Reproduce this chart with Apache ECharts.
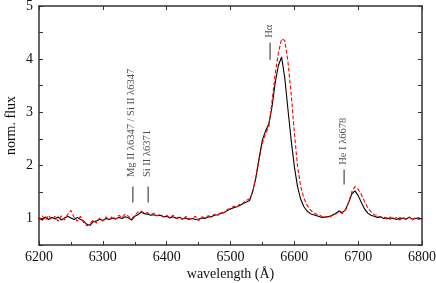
<!DOCTYPE html>
<html><head><meta charset="utf-8">
<script src="https://cdn.jsdelivr.net/npm/echarts@6/dist/echarts.min.js"></script>
<style>html,body{margin:0;padding:0;background:#fff}#c{width:436px;height:283px}</style>
</head><body><div id="c"></div>
<script>
const wavelength = [6200,6205,6210,6215,6220,6225,6230,6235,6240,6245,6250,6255,6260,6265,6270,6275,6280,6285,6290,6295,
6300,6305,6310,6315,6320,6325,6330,6335,6340,6345,6350,6355,6360,6365,6370,6375,6380,6385,6390,6395,
6400,6405,6410,6415,6420,6425,6430,6435,6440,6445,6450,6455,6460,6465,6470,6475,6480,6485,6490,6495,
6500,6505,6510,6515,6520,6525,6530,6535,6540,6545,6550,6555,6560,6565,6570,6575,6580,6585,6590,6595,
6600,6605,6610,6615,6620,6625,6630,6635,6640,6645,6650,6655,6660,6665,6670,6675,6680,6685,6690,6695,
6700,6705,6710,6715,6720,6725,6730,6735,6740,6745,6750,6755,6760,6765,6770,6775,6780,6785,6790,6795,6800];
const fluxBlack = [1.01,0.97,1.03,0.98,1.02,0.99,1.03,0.97,1.01,1.04,1.01,0.98,1.02,0.98,0.95,0.89,0.87,0.94,0.95,0.99,
0.96,1.00,0.98,1.01,0.99,1.02,1.00,1.03,1.01,0.97,1.04,1.07,1.12,1.09,1.08,1.06,1.07,1.05,1.06,1.03,
1.04,1.01,1.03,1.00,1.02,0.99,1.01,0.98,1.00,0.98,0.99,1.01,1.00,1.03,1.03,1.06,1.07,1.10,1.11,1.15,
1.18,1.20,1.22,1.25,1.28,1.31,1.34,1.52,1.78,2.15,2.48,2.65,2.78,3.10,3.55,3.88,4.04,3.65,3.05,2.48,
1.98,1.60,1.36,1.22,1.14,1.09,1.07,1.05,1.03,1.02,1.03,1.04,1.06,1.10,1.14,1.11,1.16,1.30,1.46,1.52,
1.43,1.30,1.18,1.10,1.06,1.04,1.02,1.03,1.00,1.01,0.99,1.01,0.98,1.01,1.00,0.99,1.02,0.99,1.00,1.01,0.99];
const fluxRed = [0.95,1.05,0.97,1.06,0.98,1.04,0.95,1.05,0.97,1.08,1.15,1.02,0.95,1.04,0.92,0.86,0.90,0.97,0.91,1.01,
0.95,1.03,0.97,1.04,0.99,1.06,1.02,1.08,1.04,0.99,1.06,1.12,1.14,1.10,1.11,1.07,1.10,1.05,1.08,1.03,
1.06,1.01,1.06,1.00,1.04,0.97,1.04,0.99,1.00,1.04,0.96,1.03,1.01,1.05,1.03,1.08,1.06,1.12,1.11,1.17,
1.18,1.23,1.21,1.28,1.29,1.34,1.37,1.50,1.82,2.12,2.42,2.60,2.72,3.20,3.72,4.12,4.38,4.35,3.95,3.35,
2.62,1.98,1.60,1.38,1.25,1.16,1.11,1.08,1.06,1.02,1.04,1.01,1.07,1.08,1.13,1.09,1.16,1.30,1.50,1.60,
1.55,1.45,1.32,1.20,1.13,1.07,1.06,1.02,1.03,0.99,1.03,0.98,1.02,0.97,1.02,0.98,1.03,0.97,1.02,0.98,1.01];
const xTicks = [6200,6300,6400,6500,6600,6700,6800];
const yTicks = [1,2,3,4,5];
const lineNames = ["Mg II λ6347 / Si II λ6347","Si II λ6371","Hα","He I λ6678"];
const lineWave = [6347,6371,6562,6678];
const markBottom = [1.30,1.30,3.99,1.64];
const markTop = [1.60,1.60,4.31,1.92];
const textBase = [1.78,1.78,4.40,2.01];

const FONT = "'Liberation Serif','DejaVu Serif',serif";
const AX = '#333';
const series = [];
series.push({type:'line', data: wavelength.map((w,i)=>[w,fluxBlack[i]]), showSymbol:false, symbol:'none',
  lineStyle:{color:'#000', width:1.1}, z:2, animation:false});
series.push({type:'line', data: wavelength.map((w,i)=>[w,fluxRed[i]]), showSymbol:false, symbol:'none',
  lineStyle:{color:'#ff0000', width:1.1, type:[4,2]}, z:3, animation:false});
lineWave.forEach((w,i)=>{
  series.push({type:'line', data:[[w,markBottom[i]],[w,markTop[i]]], symbol:'none',
    lineStyle:{color:'#555', width:1.3}, z:4, animation:false, silent:true});
});
series.push({type:'scatter', symbolSize:0, animation:false, silent:true, z:5,
  data: lineWave.map((w,i)=>({value:[w - 2, textBase[i]], name: lineNames[i]})),
  label:{show:true, position:[0,0], rotate:90, align:'left', verticalAlign:'middle',
    formatter: p=>p.name, fontFamily:FONT, fontSize:10.5, color:'#222'}});

const chart = echarts.init(document.getElementById('c'), null, {renderer:'canvas'});
chart.setOption({
  animation:false,
  grid:{left:39, right:14, top:6, bottom:38, containLabel:false, outerBoundsMode:'none'},
  xAxis:[{type:'value', min:6200, max:6800, interval:100, position:'bottom',
    name:'wavelength (Å)', nameLocation:'middle', nameGap:22, nameMoveOverlap:false,
    nameTextStyle:{fontFamily:FONT, fontSize:14, color:'#111'},
    axisLine:{onZero:false, lineStyle:{color:AX, width:1.5}},
    axisTick:{inside:true, length:4, lineStyle:{color:AX}},
    minorTick:{show:true, splitNumber:2, length:3, lineStyle:{color:AX}},
    axisLabel:{fontFamily:FONT, fontSize:14, color:'#111', margin:5,
      formatter:v=>xTicks.includes(v)?String(v):''},
    splitLine:{show:false}},
   {type:'value', min:6200, max:6800, interval:100, position:'top',
    axisLine:{onZero:false, lineStyle:{color:AX, width:1.5}},
    axisTick:{inside:true, length:4, lineStyle:{color:AX}},
    axisLabel:{show:false}, splitLine:{show:false}}],
  yAxis:[{type:'value', min:0.5, max:5, interval:0.5, position:'left',
    name:'norm. flux', nameLocation:'middle', nameGap:21, nameMoveOverlap:false,
    nameTextStyle:{fontFamily:FONT, fontSize:14, color:'#111'},
    axisLine:{onZero:false, lineStyle:{color:AX, width:1.5}},
    axisTick:{inside:true, length:4, lineStyle:{color:AX}},
    axisLabel:{fontFamily:FONT, fontSize:14, color:'#111', margin:6,
      formatter:v=>yTicks.includes(v)?String(v):''},
    splitLine:{show:false}},
   {type:'value', min:0.5, max:5, interval:0.5, position:'right',
    axisLine:{onZero:false, lineStyle:{color:AX, width:1.5}},
    axisTick:{inside:true, length:4, lineStyle:{color:AX}},
    axisLabel:{show:false}, splitLine:{show:false}}],
  series: series
});
</script></body></html>
